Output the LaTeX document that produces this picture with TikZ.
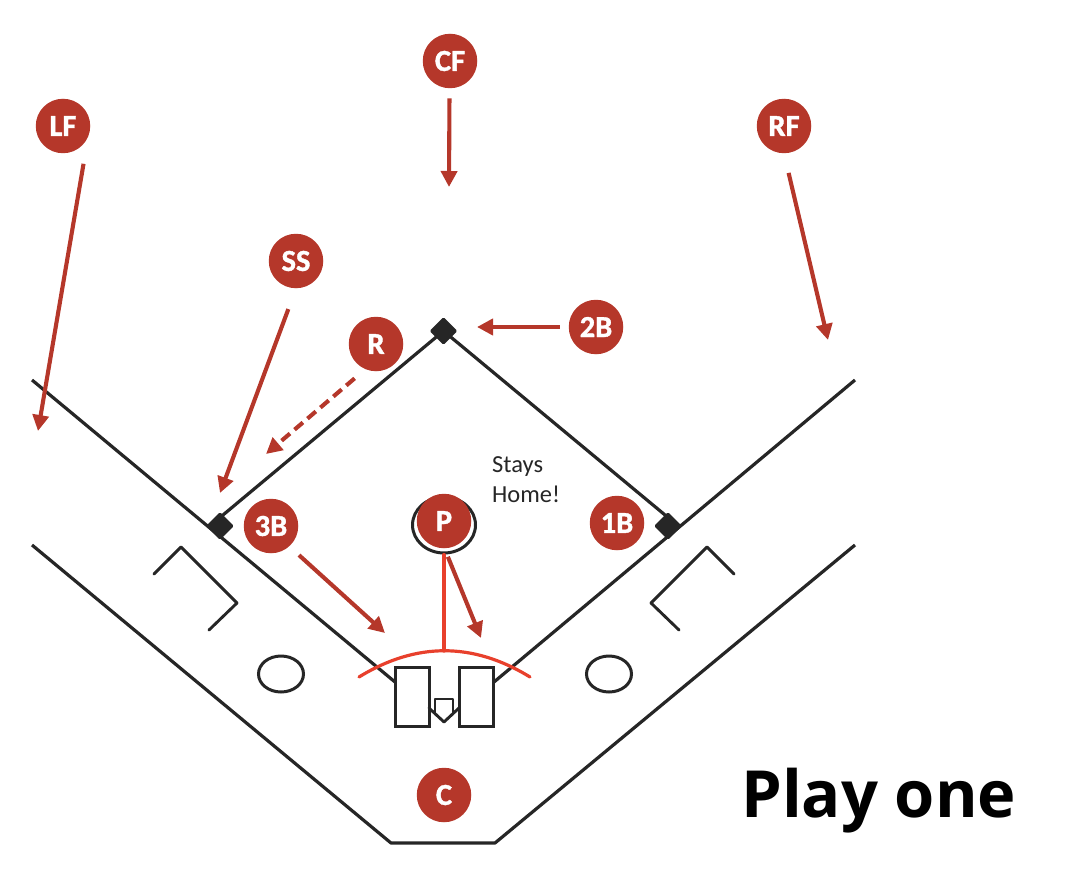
\documentclass[tikz,border=0pt]{standalone}
\usepackage{fontspec}
\setmainfont{Open Sans}
\newfontfamily\labelfont{Carlito}
\newfontfamily\labelbold{Carlito}[BoldFeatures={FakeBold=1.2}]
\usetikzlibrary{arrows.meta,shapes.geometric}
\definecolor{brick}{HTML}{B5372A}
\definecolor{ink}{HTML}{262626}
\definecolor{flame}{HTML}{E8402C}
\tikzset{
  player/.style={circle,fill=brick,text=white,minimum size=54.5pt,inner sep=0pt,
    font=\labelbold\fontsize{30.5}{30.5}\selectfont\bfseries},
  bag/.style={diamond,fill=ink,minimum size=28pt,inner sep=0pt,rounded corners=1.5pt},
  fieldline/.style={draw=ink,line width=3.2pt,line join=round},
  thinline/.style={draw=ink,line width=2.9pt,line join=round,line cap=round},
  move/.style={draw=brick,line width=4.1pt,-{Triangle[length=16pt,width=16pt]}},
  movedash/.style={move,dash pattern=on 11pt off 6pt},
  reach/.style={draw=flame,line width=3.2pt,line cap=round},
  batterbox/.style={rectangle,draw=ink,fill=white,line width=3pt,minimum width=34pt,minimum height=59pt,inner sep=0pt},
  note/.style={font=\labelfont\fontsize{24.5}{30}\selectfont,text=ink,align=left,inner sep=0pt},
  title/.style={font=\fontsize{65}{65}\selectfont\bfseries,text=black,inner sep=0pt},
  deck/.style={ellipse,draw=ink,line width=3pt,minimum width=45pt,minimum height=36pt,inner sep=0pt},
}
\begin{document}
\begin{tikzpicture}[x=1pt,y=-1pt]
\useasboundingbox (0,0) rectangle (1071,880);
% free ends
\coordinate (leftfoul) at (32,380);
\coordinate (rightfoul) at (855,380);
\coordinate (homeleft) at (395,682);
\coordinate (homeright) at (494,682);
\coordinate (outerA) at (32,545);
\coordinate (outerB) at (391,843);
\coordinate (outerC) at (495,843);
\coordinate (outerD) at (855,545);
\coordinate (arcL) at (359,677);
\coordinate (arcR) at (530,677);
\coordinate (arcTop) at (444,651);
\coordinate (cfEnd) at (449,187);
\coordinate (lfEnd) at (38,431);
\coordinate (rfEnd) at (828,340);
\coordinate (ssEnd) at (220,493);
\coordinate (rEnd) at (266,454);
\coordinate (sbEnd) at (477,327);
\coordinate (tbEnd) at (385,633);
\coordinate (pEnd) at (481,638);
% bases
\node[bag] (second) at (443.5,331) {};
\node[bag] (third) at (220,526) {};
\node[bag] (first) at (668,526) {};
% field lines
\draw[fieldline] (leftfoul) -- (homeleft);
\draw[fieldline] (rightfoul) -- (homeright);
\draw[fieldline] ([xshift=2pt,yshift=-4pt]third.north) -- (second.center) -- ([xshift=-2pt,yshift=-4pt]first.north);
\draw[fieldline] (outerA) -- (outerB) -- (outerC) -- (outerD);
% coach boxes and circles
\draw[thinline] (154,574) -- (181,547) -- (237,603) -- (209,630);
\draw[thinline] (734,574) -- (707,547) -- (651,603) -- (679,630);
\node[deck] (deckL) at (281,674) {};
\node[deck] (deckR) at (609,674) {};
% home area
\node[batterbox] (boxL) at (412,696.5) {};
\node[batterbox] (boxR) at (476.5,696.5) {};
\draw[thinline] (429,708) -- (444,722) -- (459,708);
\draw[thinline] (435,714) -- (435,699) -- (453,699) -- (453,714);
% mound and reach
\node[ellipse,draw=ink,line width=3pt,minimum width=63pt,minimum height=56pt,inner sep=0pt] (mound) at (444,525) {};
\draw[reach] (mound.south) -- (arcTop);
\draw[reach] (arcL) .. controls (416,642) and (473,642) .. (arcR);
% players
\node[player] (cf) at (450,61) {CF};
\node[player] (lf) at (63,126) {LF};
\node[player] (rf) at (784,126) {RF};
\node[player] (ss) at (296,261) {SS};
\node[player] (r) at (376,344) {R};
\node[player] (sb) at (596,327) {2B};
\node[player] (tb) at (271,526) {3B};
\node[player] (fb) at (617,523) {1B};
\node[player] (p) at (444,521) {P};
\node[player] (c) at (444,795) {C};
% moves
\draw[move,shorten <=10pt] (cf.-91) -- (cfEnd);
\draw[move,shorten <=27pt] (lf.-24) -- (lfEnd);
\draw[move,shorten <=20pt] (rf.-90) -- (rfEnd);
\draw[move,shorten <=22pt] (ss.-90) -- (ssEnd);
\draw[movedash,shorten <=14pt] (r.-113) -- (rEnd);
\draw[move,shorten <=9pt] (sb.west) -- (sbEnd);
\draw[move,shorten <=13pt] (tb.-48) -- (tbEnd);
\draw[move,shorten <=9pt] (p.-89) -- (pEnd);
% texts
\node[note,anchor=base west] (stays) at (492,502) {Stays\\Home!};
\node[title,anchor=base west] (play) at (741,817) {Play one};
\end{tikzpicture}
\end{document}
